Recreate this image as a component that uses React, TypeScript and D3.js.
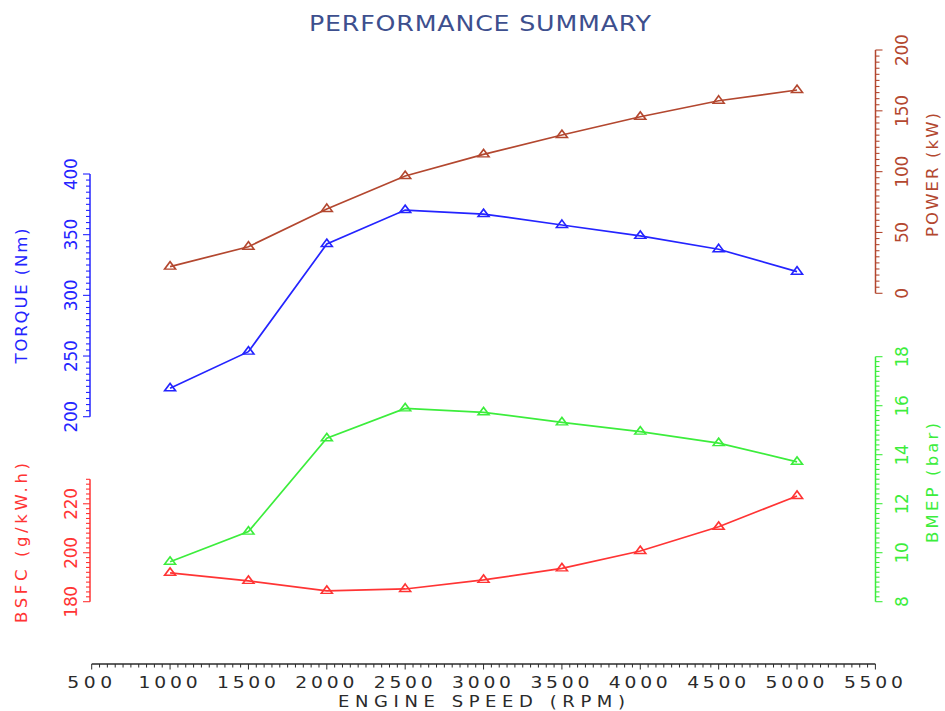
import React from "react";
import * as d3 from "d3";

const rpm = [1000, 1500, 2000, 2500, 3000, 3500, 4000, 4500, 5000];
const torque = [223.4, 253.6, 342.3, 370.3, 367, 358, 349, 338, 319.5];
const power = [21.9, 38.3, 69.3, 96.4, 114.2, 130.1, 145.1, 158.3, 167.1];
const bmep = [9.63, 10.86, 14.67, 15.89, 15.73, 15.32, 14.94, 14.47, 13.71];
const bsfc = [191.8, 188.5, 184.4, 185.2, 188.9, 193.6, 200.7, 210.6, 223.2];

const xTicks = [500, 1000, 1500, 2000, 2500, 3000, 3500, 4000, 4500, 5000, 5500];
const torqueTicks = [200, 250, 300, 350, 400];
const powerTicks = [0, 50, 100, 150, 200];
const bmepTicks = [8, 10, 12, 14, 16, 18];
const bsfcTicks = [180, 200, 220];

const TITLE = "PERFORMANCE SUMMARY";
const X_TITLE = "ENGINE SPEED (RPM)";

const FONT = "'DejaVu Sans', 'Liberation Sans', sans-serif";

const C_TORQUE = "#2424ff";
const C_POWER = "#b3472f";
const C_BMEP = "#3ced3c";
const C_BSFC = "#ff3434";
const C_AXIS = "#2a2a2a";
const C_TITLE = "#3d4f8e";

const x = d3.scaleLinear().domain([500, 5500]).range([91.7, 875.4]);
const yTorque = d3.scaleLinear().domain([200, 400]).range([416.7, 174]);
const yPower = d3.scaleLinear().domain([0, 200]).range([293.3, 50]);
const yBmep = d3.scaleLinear().domain([8, 18]).range([601.7, 356.7]);
const yBsfc = d3.scaleLinear().domain([180, 230]).range([601.7, 479.3]);

const tri = d3.symbol(d3.symbolTriangle, 48)() as string;

// stretched text helper: length is the final on-screen length
function Txt({
  x: tx,
  y: ty,
  rotate = 0,
  sx = 1,
  size,
  color,
  len,
  children,
  baseline,
}: {
  x: number;
  y: number;
  rotate?: number;
  sx?: number;
  size: number;
  color: string;
  len?: number;
  children: React.ReactNode;
  baseline?: string;
}) {
  return (
    <text
      transform={`translate(${tx},${ty}) rotate(${rotate}) scale(${sx},1)`}
      textAnchor="middle"
      dominantBaseline={baseline as any}
      fontFamily={FONT}
      fontSize={size}
      fill={color}
      textLength={len ? len / sx : undefined}
      lengthAdjust={len ? "spacing" : undefined}
    >
      {children}
    </text>
  );
}

function Series({ values, y, color }: { values: number[]; y: d3.ScaleLinear<number, number>; color: string }) {
  const line = d3
    .line<number>()
    .x((_, i) => x(rpm[i]))
    .y((v) => y(v));
  return (
    <g>
      <path d={line(values) as string} fill="none" stroke={color} strokeWidth={1.7} />
      {values.map((v, i) => (
        <path
          key={i}
          d={tri}
          transform={`translate(${x(rpm[i])},${y(v)}) scale(1.05,0.82)`}
          fill="none"
          stroke={color}
          strokeWidth={1.7}
        />
      ))}
    </g>
  );
}

function VAxis({
  y,
  domain,
  step,
  labels,
  side,
  color,
  axisX,
  labelX,
  title,
  titleX,
  titleY,
  titleLen,
}: {
  y: d3.ScaleLinear<number, number>;
  domain: [number, number];
  step: number;
  labels: number[];
  side: number;
  color: string;
  axisX: number;
  labelX: number;
  title: string;
  titleX: number;
  titleY: number;
  titleLen: number;
}) {
  const n = Math.round((domain[1] - domain[0]) / step);
  const minor = d3.range(n + 1).map((i) => domain[0] + i * step);
  return (
    <g>
      <line x1={axisX} x2={axisX} y1={y(domain[0])} y2={y(domain[1])} stroke={color} strokeWidth={1.5} />
      {minor.map((v, i) => {
        const isMajor = labels.some((l) => Math.abs(l - v) < 1e-6);
        const len = isMajor ? 7 : 4;
        return (
          <line
            key={i}
            x1={axisX}
            x2={axisX + side * len}
            y1={y(v)}
            y2={y(v)}
            stroke={color}
            strokeWidth={1.1}
          />
        );
      })}
      {labels.map((l) => (
        <Txt
          key={l}
          x={labelX}
          y={y(l)}
          rotate={-90}
          sx={1.0}
          size={17}
          color={color}
          baseline="central"
          len={String(l).length * 10.6}
        >
          {l}
        </Txt>
      ))}
      <Txt
        x={titleX}
        y={titleY}
        rotate={-90}
        sx={1.1}
        size={15}
        color={color}
        baseline="central"
        len={titleLen}
      >
        {title}
      </Txt>
    </g>
  );
}

export default function App() {
  const xMinor = d3.range(0, 101).map((i) => 500 + i * 50);
  return (
    <svg
      width={945}
      height={711}
      style={{ position: "absolute", left: 0, top: 0, background: "#fff" }}
    >
      <rect width={945} height={711} fill="#fff" />
      <Txt x={480} y={31} sx={1.15} size={22} color={C_TITLE} len={342}>
        {TITLE}
      </Txt>

      {/* X axis */}
      <g>
        <line x1={x(500)} x2={x(5500)} y1={664} y2={664} stroke={C_AXIS} strokeWidth={1.5} />
        {xMinor.map((v, i) => {
          const isMajor = v % 500 === 0;
          return (
            <line
              key={i}
              x1={x(v)}
              x2={x(v)}
              y1={664}
              y2={664 + (isMajor ? 5.5 : 3.5)}
              stroke={C_AXIS}
              strokeWidth={1}
            />
          );
        })}
        {xTicks.map((t) => (
          <Txt
            key={t}
            x={x(t) - 2}
            y={688}
            sx={1.25}
            size={15}
            color={C_AXIS}
            len={String(t).length === 4 ? 59 : 45}
          >
            {t}
          </Txt>
        ))}
        <Txt x={481.5} y={707} sx={1.2} size={15} color={C_AXIS} len={287}>
          {X_TITLE}
        </Txt>
      </g>

      <VAxis
        y={yTorque}
        domain={[200, 400]}
        step={5}
        labels={torqueTicks}
        side={-1}
        color={C_TORQUE}
        axisX={90}
        labelX={70.5}
        title="TORQUE (Nm)"
        titleX={21.5}
        titleY={296}
        titleLen={135}
      />
      <VAxis
        y={yBsfc}
        domain={[180, 230]}
        step={2}
        labels={bsfcTicks}
        side={-1}
        color={C_BSFC}
        axisX={90}
        labelX={70.5}
        title="BSFC (g/kW.h)"
        titleX={21.5}
        titleY={543}
        titleLen={160}
      />
      <VAxis
        y={yPower}
        domain={[0, 200]}
        step={5}
        labels={powerTicks}
        side={1}
        color={C_POWER}
        axisX={875.5}
        labelX={901.5}
        title="POWER (kW)"
        titleX={932.5}
        titleY={175}
        titleLen={124}
      />
      <VAxis
        y={yBmep}
        domain={[8, 18]}
        step={0.2}
        labels={bmepTicks}
        side={1}
        color={C_BMEP}
        axisX={875.5}
        labelX={901.5}
        title="BMEP (bar)"
        titleX={932.5}
        titleY={483}
        titleLen={120}
      />

      <Series values={power} y={yPower} color={C_POWER} />
      <Series values={torque} y={yTorque} color={C_TORQUE} />
      <Series values={bmep} y={yBmep} color={C_BMEP} />
      <Series values={bsfc} y={yBsfc} color={C_BSFC} />
    </svg>
  );
}
